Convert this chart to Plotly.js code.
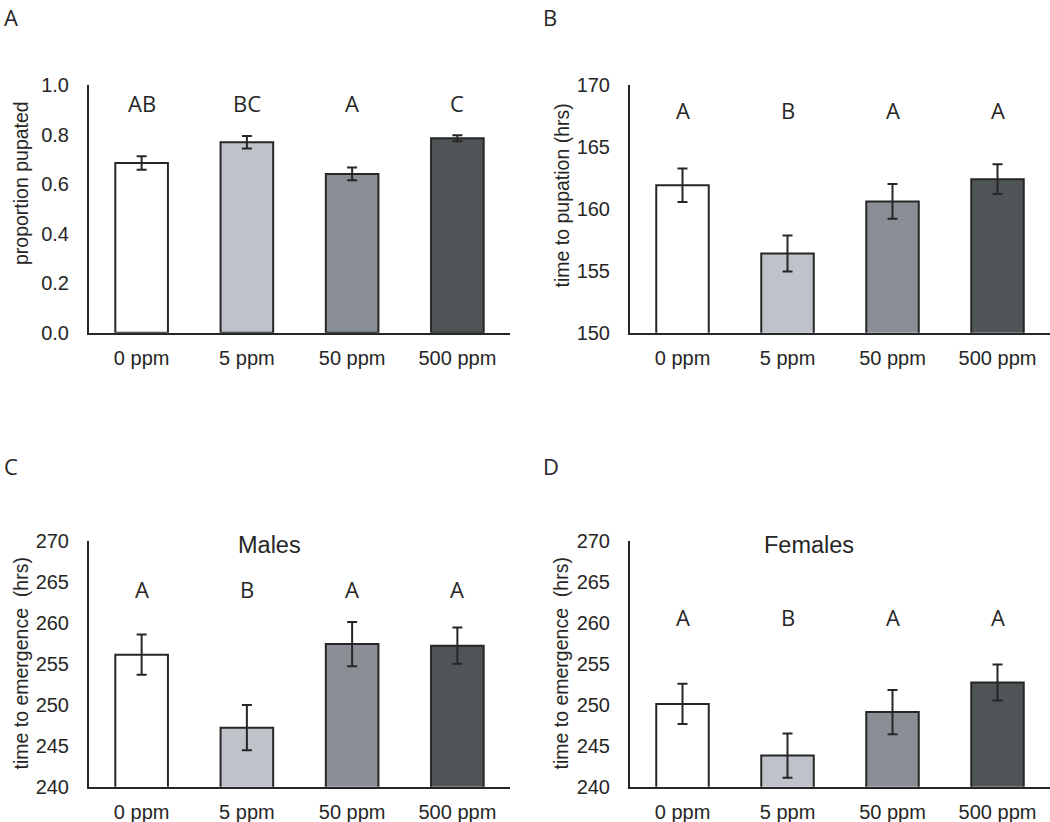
<!DOCTYPE html>
<html>
<head>
<meta charset="utf-8">
<script src="https://cdn.plot.ly/plotly-3.0.1.min.js"></script>
<style>html,body{margin:0;padding:0;background:#fff}#chart{width:1050px;height:822px}</style>
</head>
<body>
<div id="chart"></div>
<script>
// ---- data ----
var categories = ["0 ppm", "5 ppm", "50 ppm", "500 ppm"];

var pupatedMean = [0.685, 0.769, 0.641, 0.785];
var pupatedErr  = [0.027, 0.025, 0.026, 0.012];
var pupatedLetters = ["AB", "BC", "A", "C"];

var pupationMean = [161.9, 156.4, 160.6, 162.4];
var pupationErr  = [1.35, 1.45, 1.4, 1.2];
var pupationLetters = ["A", "B", "A", "A"];

var malesMean = [256.1, 247.2, 257.4, 257.2];
var malesErr  = [2.45, 2.75, 2.7, 2.2];
var malesLetters = ["A", "B", "A", "A"];

var femalesMean = [250.1, 243.8, 249.1, 252.7];
var femalesErr  = [2.45, 2.7, 2.7, 2.2];
var femalesLetters = ["A", "B", "A", "A"];

var barColors = ["#ffffff", "#bec3c9", "#898f95", "#4f5557"];
var ink = "#262626";

function barTrace(vals, errs, xa, ya) {
  return {
    type: "bar", x: categories, y: vals, xaxis: xa, yaxis: ya,
    width: 0.5,
    marker: {color: barColors, line: {color: ink, width: 2}},
    error_y: {type: "data", array: errs, visible: true, color: ink, thickness: 2, width: 5},
    hoverinfo: "x+y", showlegend: false
  };
}

var data = [
  barTrace(pupatedMean, pupatedErr, "x", "y"),
  barTrace(pupationMean, pupationErr, "x2", "y2"),
  barTrace(malesMean, malesErr, "x3", "y3"),
  barTrace(femalesMean, femalesErr, "x4", "y4")
];

var tickFont = {family: "Liberation Sans, Arial, sans-serif", size: 20, color: ink};

function xAxis(domain, anchor) {
  return {
    domain: domain, anchor: anchor, type: "category", range: [-0.5, 3.5],
    showline: true, linecolor: ink, linewidth: 2, ticks: "", showgrid: false,
    zeroline: false, tickfont: tickFont, ticklabelstandoff: 6, fixedrange: true
  };
}
function yAxis(domain, anchor, range, dtick, fmt) {
  return {
    domain: domain, anchor: anchor, range: range, dtick: dtick, tick0: range[0],
    tickformat: fmt, showline: true, linecolor: ink, linewidth: 2, ticks: "",
    showgrid: false, zeroline: false, tickfont: tickFont, ticklabelstandoff: 14,
    fixedrange: true
  };
}

var W = 1050, H = 822;
var xdL = [89 / W, 510 / W], xdR = [630 / W, 1050 / W];
var ydT = [1 - 332.7 / H, 1 - 85 / H], ydB = [1 - 786.7 / H, 1 - 540.7 / H];

var annotations = [];
var letterFont = {family: "Open Sans, Noto Sans, sans-serif", size: 22, color: ink};
function addLetters(letters, xref, yref, yPos) {
  letters.forEach(function (t, i) {
    annotations.push({text: t, x: categories[i], y: yPos, xref: xref, yref: yref,
      showarrow: false, font: letterFont, xanchor: "center", yanchor: "middle"});
  });
}
addLetters(pupatedLetters, "x", "y", 0.928);
addLetters(pupationLetters, "x2", "y2", 168.0);
addLetters(malesLetters, "x3", "y3", 264.1);
addLetters(femalesLetters, "x4", "y4", 260.7);

var titleFont = {family: "Liberation Sans, Arial, sans-serif", size: 19.5, color: ink};
function yTitle(text, px, py) {
  annotations.push({text: text, x: px / W, y: 1 - py / H, xref: "paper", yref: "paper",
    textangle: -90, showarrow: false, font: titleFont, xanchor: "center", yanchor: "middle"});
}
yTitle("proportion pupated", 20.5, 183.5);
yTitle("time to pupation (hrs)", 561.5, 196);
yTitle("time to emergence\u00a0 (hrs)", 20.5, 664);
yTitle("time to emergence\u00a0 (hrs)", 560.5, 664);

var subFont = {family: "Liberation Sans, Arial, sans-serif", size: 23.5, color: ink};
annotations.push({text: "Males", x: 269 / W, y: 1 - 545 / H, xref: "paper", yref: "paper",
  showarrow: false, font: subFont, xanchor: "center", yanchor: "middle"});
annotations.push({text: "Females", x: 809 / W, y: 1 - 545 / H, xref: "paper", yref: "paper",
  showarrow: false, font: subFont, xanchor: "center", yanchor: "middle"});

var panelFont = {family: "Open Sans, Noto Sans, sans-serif", size: 22, color: ink};
[["A", 2, 0, "top"], ["B", 541, 0, "top"], ["C", 2, 466, "middle"], ["D", 541, 466, "middle"]].forEach(function (p) {
  annotations.push({text: p[0], x: p[1] / W, y: 1 - p[2] / H, xref: "paper", yref: "paper",
    showarrow: false, font: panelFont, xanchor: "left", yanchor: p[3]});
});

var layout = {
  width: W, height: H, margin: {l: 0, r: 0, t: 0, b: 0},
  paper_bgcolor: "#ffffff", plot_bgcolor: "rgba(0,0,0,0)",
  showlegend: false, bargap: 0.5,
  xaxis: xAxis(xdL, "y"), yaxis: yAxis(ydT, "x", [0, 1], 0.2, ".1f"),
  xaxis2: xAxis(xdR, "y2"), yaxis2: yAxis(ydT, "x2", [150, 170], 5, "d"),
  xaxis3: xAxis(xdL, "y3"), yaxis3: yAxis(ydB, "x3", [240, 270], 5, "d"),
  xaxis4: xAxis(xdR, "y4"), yaxis4: yAxis(ydB, "x4", [240, 270], 5, "d"),
  annotations: annotations
};

Plotly.newPlot("chart", data, layout, {displayModeBar: false, staticPlot: true});
</script>
</body>
</html>
